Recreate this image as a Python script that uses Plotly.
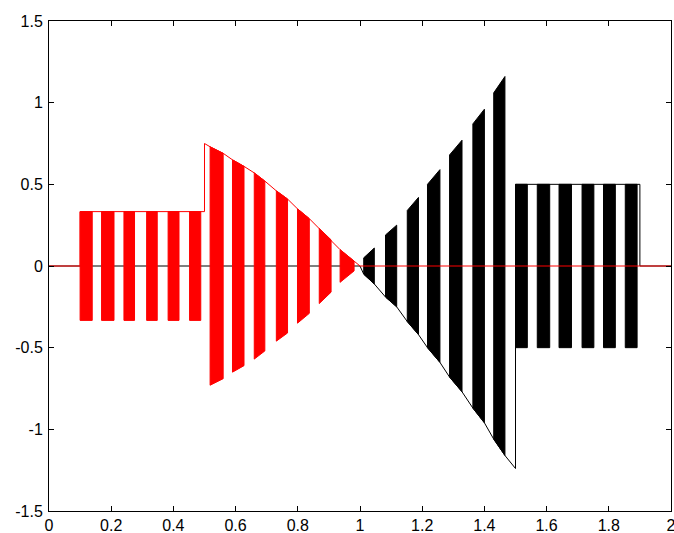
"""Two PWM-like switching signals (red phase, black phase)."""

import plotly.graph_objects as go

RED = "#ff0000"
BLACK = "#000000"

# red signal, constant level part (0.1 .. 0.5)
red_level = 0.333
red_a_start = [0.100, 0.169, 0.241, 0.314, 0.383, 0.452]
red_a_end = [0.139, 0.209, 0.275, 0.348, 0.418, 0.488]

# red signal, shrinking envelope part (0.5 .. 1.0)
red_step_t = 0.5
red_step_v = 0.75
red_b_start = [0.518, 0.590, 0.660, 0.731, 0.799, 0.869, 0.936]
red_b_end = [0.560, 0.627, 0.694, 0.767, 0.837, 0.907, 0.981]
red_b_top_start = [0.73, 0.65, 0.57, 0.46, 0.35, 0.23, 0.10]
red_b_top_end = [0.69, 0.61, 0.52, 0.41, 0.29, 0.16, 0.03]
red_off_t = 1.0

# black signal, growing envelope part (1.0 .. 1.5)
black_on_t = 1.0
black_a_start = [1.012, 1.082, 1.152, 1.217, 1.288, 1.363, 1.430]
black_a_end = [1.046, 1.118, 1.188, 1.257, 1.328, 1.400, 1.466]
black_a_top_start = [0.05, 0.19, 0.34, 0.50, 0.68, 0.87, 1.06]
black_a_top_end = [0.11, 0.25, 0.42, 0.59, 0.77, 0.96, 1.16]
black_peak_t = 1.5
black_peak_v = 1.24

# black signal, constant level part (1.5 .. 1.9)
black_level = 0.5
black_b_start = [1.500, 1.570, 1.640, 1.714, 1.783, 1.853]
black_b_end = [1.538, 1.610, 1.680, 1.752, 1.821, 1.891]
black_off_t = 1.9

x_end = 2.0
x_tick_vals = [0, 0.2, 0.4, 0.6, 0.8, 1.0, 1.2, 1.4, 1.6, 1.8, 2.0]
x_tick_text = ["0", "0.2", "0.4", "0.6", "0.8", "1", "1.2", "1.4", "1.6", "1.8", "2"]
y_tick_vals = [-1.5, -1, -0.5, 0, 0.5, 1, 1.5]
y_tick_text = ["-1.5", "-1", "-0.5", "0", "0.5", "1", "1.5"]


def burst_polygons(starts, ends, tops_start, tops_end):
    """Closed shapes for the dense switching bursts, split by None."""
    xs, ys = [], []
    for s, e, ts, te in zip(starts, ends, tops_start, tops_end):
        xs += [s, s, e, e, s, None]
        ys += [ts, -ts, -te, te, ts, None]
    return xs, ys


# red outline: zero, constant level, step up, upper envelope, back to zero
red_x = [0, red_a_start[0], red_a_start[0], red_step_t, red_step_t]
red_y = [0, 0, red_level, red_level, red_step_v]
for s, e, ts, te in zip(red_b_start, red_b_end, red_b_top_start, red_b_top_end):
    red_x += [s, e]
    red_y += [ts, te]
red_x += [red_off_t, x_end]
red_y += [0, 0]

# black outline: zero, lower envelope, jump to constant level, back to zero
black_x = [0, black_on_t]
black_y = [0, 0]
for s, e, ts, te in zip(black_a_start, black_a_end, black_a_top_start, black_a_top_end):
    black_x += [s, e]
    black_y += [-ts, -te]
black_x += [black_peak_t, black_peak_t, black_off_t, black_off_t, x_end]
black_y += [-black_peak_v, black_level, black_level, 0, 0]

red_a_x, red_a_y = burst_polygons(
    red_a_start, red_a_end, [red_level] * len(red_a_start), [red_level] * len(red_a_end)
)
red_b_x, red_b_y = burst_polygons(red_b_start, red_b_end, red_b_top_start, red_b_top_end)
black_a_x, black_a_y = burst_polygons(
    black_a_start, black_a_end, black_a_top_start, black_a_top_end
)
black_b_x, black_b_y = burst_polygons(
    black_b_start, black_b_end, [black_level] * len(black_b_start),
    [black_level] * len(black_b_end),
)

fig = go.Figure()
line_style = {"width": 1}
fig.add_trace(go.Scatter(x=black_x, y=black_y, mode="lines", line={**line_style, "color": BLACK}))
for xs, ys in [(black_a_x, black_a_y), (black_b_x, black_b_y)]:
    fig.add_trace(go.Scatter(
        x=xs, y=ys, mode="lines", fill="toself", fillcolor=BLACK,
        line={**line_style, "color": BLACK},
    ))
for xs, ys in [(red_a_x, red_a_y), (red_b_x, red_b_y)]:
    fig.add_trace(go.Scatter(
        x=xs, y=ys, mode="lines", fill="toself", fillcolor=RED,
        line={**line_style, "color": RED},
    ))
fig.add_trace(go.Scatter(x=red_x, y=red_y, mode="lines", line={**line_style, "color": RED}))

axis_style = dict(
    showline=True, linecolor="black", linewidth=1, mirror="ticks",
    ticks="inside", ticklen=5, tickcolor="black", showgrid=False, zeroline=False,
    automargin=False, ticklabeloverflow="allow",
)
fig.update_layout(
    width=674,
    height=533,
    margin={"l": 49, "r": 3, "t": 21, "b": 22},
    paper_bgcolor="white",
    plot_bgcolor="white",
    showlegend=False,
    font={"family": "Liberation Sans, Arial, sans-serif", "size": 16, "color": "black"},
    xaxis=dict(range=[0, 2], tickvals=x_tick_vals, ticktext=x_tick_text,
               ticklabelstandoff=0, **axis_style),
    yaxis=dict(range=[-1.5, 1.5], tickvals=y_tick_vals, ticktext=y_tick_text,
               ticklabelstandoff=2, **axis_style),
)

# drop the default body margin so the figure sits in the page corner
fig.write_html(
    "out.html",
    config={"displayModeBar": False},
    post_script="document.body.style.margin='0';document.body.style.overflow='hidden';",
)
